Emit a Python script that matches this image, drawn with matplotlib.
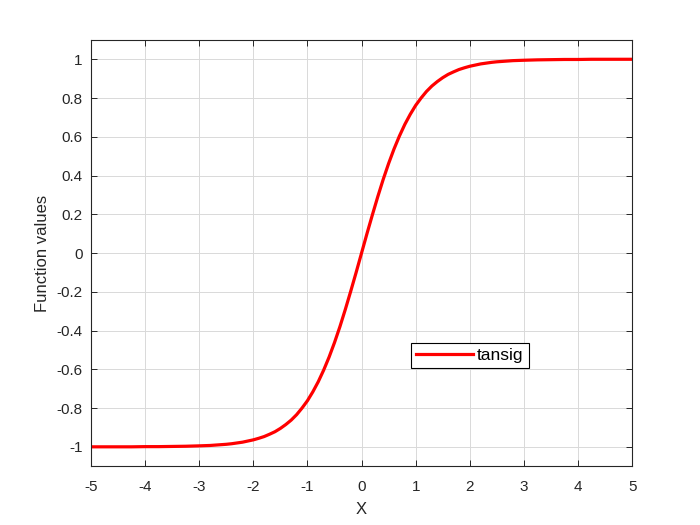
import numpy as np
import matplotlib
matplotlib.use('Agg')
import matplotlib.pyplot as plt

# values, right half (curve is odd-symmetric about 0)
x_pos = [0.0, 0.1, 0.2, 0.3, 0.4, 0.5, 0.6, 0.7, 0.8, 0.9, 1.0,
         1.1, 1.2, 1.3, 1.4, 1.5, 1.6, 1.7, 1.8, 1.9, 2.0,
         2.1, 2.2, 2.3, 2.4, 2.5, 2.6, 2.7, 2.8, 2.9, 3.0,
         3.25, 3.5, 3.75, 4.0, 4.25, 4.5, 4.75, 5.0]
y_pos = [0.000, 0.100, 0.197, 0.291, 0.380, 0.462, 0.537, 0.604, 0.664, 0.716, 0.762,
         0.800, 0.834, 0.862, 0.885, 0.905, 0.922, 0.935, 0.947, 0.956, 0.964,
         0.970, 0.976, 0.980, 0.984, 0.987, 0.989, 0.991, 0.993, 0.994, 0.995,
         0.997, 0.998, 0.999, 0.999, 1.000, 1.000, 1.000, 1.000]
x_vals = [-v for v in x_pos[:0:-1]] + x_pos
y_vals = [-v for v in y_pos[:0:-1]] + y_pos

x_ticks = list(range(-5, 6))
y_ticks = [-1, -0.8, -0.6, -0.4, -0.2, 0, 0.2, 0.4, 0.6, 0.8, 1]
y_tick_labels = ['-1', '-0.8', '-0.6', '-0.4', '-0.2', '0',
                 '0.2', '0.4', '0.6', '0.8', '1']

plt.rcParams['font.family'] = ['Liberation Sans', 'DejaVu Sans']
axis_col = '#262626'

fig = plt.figure(figsize=(7, 5.25), dpi=100)
ax = fig.add_axes([0.13, 0.112, 0.773, 0.812])

ax.plot(x_vals, y_vals, color='red', linewidth=2.3, label='tansig',
        solid_joinstyle='round')

ax.set_xlim(-5, 5)
ax.set_ylim(-1.1, 1.1)
ax.set_xticks(x_ticks)
ax.set_xticklabels([str(t) for t in x_ticks])
ax.set_yticks(y_ticks)
ax.set_yticklabels(y_tick_labels)
ax.grid(True, color='#d9d9d9', linewidth=0.7)
ax.tick_params(direction='in', top=True, right=True, length=4,
               labelsize=11, colors=axis_col, width=0.7)
ax.tick_params(axis='x', pad=10)
ax.tick_params(axis='y', pad=6)
for sp in ax.spines.values():
    sp.set_color(axis_col)
    sp.set_linewidth(0.8)

ax.set_xlabel('X', fontsize=12, color=axis_col, labelpad=6)
ax.set_ylabel('Function values', fontsize=12, color=axis_col, labelpad=5)

leg = ax.legend(loc='center', bbox_to_anchor=(0.7, 0.26), fontsize=12.5,
                fancybox=False, framealpha=1, edgecolor='black',
                handlelength=3.3, handletextpad=0.2, borderpad=0.3,
                borderaxespad=0)
leg.get_frame().set_linewidth(0.8)

plt.savefig('out.png', dpi=100, facecolor='white')
plt.close()
